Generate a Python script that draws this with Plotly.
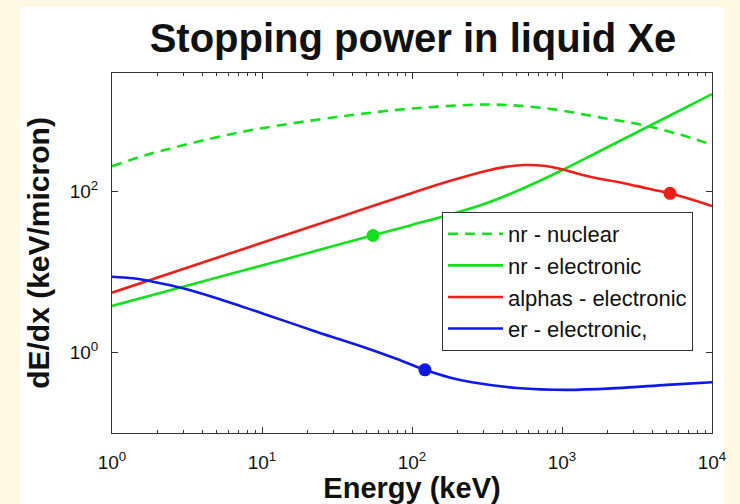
import plotly.graph_objects as go

# Energy grid (keV) and stopping powers (keV/micron) for each curve
nr_nuc_E = [1, 1.78, 3.16, 5.62, 10, 31.6, 100, 316, 562, 1000, 1778, 3162, 5623, 10000]
nr_nuc_S = [208, 295, 389, 501, 617, 851, 1084, 1216, 1161, 1023, 841, 700, 537, 385]

nr_el_E = [1, 3.16, 10, 31.6, 100, 178, 316, 562, 1000, 1778, 3162, 5623, 10000]
nr_el_S = [3.8, 6.8, 12.1, 21.7, 38.7, 51.8, 72.4, 112, 185, 319, 550, 948, 1637]

alpha_E = [1, 3.16, 10, 31.6, 100, 178, 316, 422, 562, 750, 1000, 1334, 1778, 2371, 3162, 5623, 10000]
alpha_S = [5.56, 11.35, 23.2, 47.3, 96.6, 136, 183, 204, 215, 211, 191, 164, 145, 132, 117.5, 92.3, 66.4]

er_E = [1, 1.38, 1.88, 2.97, 5.0, 10.8, 23, 50, 79.4, 122, 178, 251, 501, 1072, 2291, 5012, 10000]
er_S = [8.79, 8.4, 7.62, 6.31, 4.74, 2.94, 1.82, 1.135, 0.832, 0.61, 0.49, 0.427, 0.363, 0.344, 0.361, 0.397, 0.428]

# Highlighted points on three of the curves
nr_el_pt = (55, 28.6)
alpha_pt = (5250, 95.5)
er_pt = (122, 0.61)

x_tickvals = [1, 10, 100, 1000, 10000]
x_ticktext = ["10<sup>0</sup>", "10<sup>1</sup>", "10<sup>2</sup>", "10<sup>3</sup>", "10<sup>4</sup>"]
y_tickvals = [1, 100]
y_ticktext = ["10<sup>0</sup>", "10<sup>2</sup>"]

GREEN = "rgb(20,225,30)"
RED = "rgb(240,30,25)"
BLUE = "rgb(15,25,230)"
FONT = "Liberation Sans, Arial, sans-serif"

fig = go.Figure()
fig.add_trace(go.Scatter(x=nr_nuc_E, y=nr_nuc_S, mode="lines", name="nr - nuclear",
                         line=dict(color=GREEN, width=2.6, dash="10px,7px", shape="spline")))
fig.add_trace(go.Scatter(x=nr_el_E, y=nr_el_S, mode="lines", name="nr - electronic",
                         line=dict(color=GREEN, width=2.6, shape="spline")))
fig.add_trace(go.Scatter(x=alpha_E, y=alpha_S, mode="lines", name="alphas - electronic",
                         line=dict(color=RED, width=2.6, shape="spline")))
fig.add_trace(go.Scatter(x=er_E, y=er_S, mode="lines", name="er - electronic,",
                         line=dict(color=BLUE, width=2.6, shape="spline")))

for (px, py), col in [(nr_el_pt, GREEN), (alpha_pt, RED), (er_pt, BLUE)]:
    fig.add_trace(go.Scatter(x=[px], y=[py], mode="markers", showlegend=False,
                             marker=dict(color=col, size=13, line=dict(width=0))))

axis_common = dict(
    type="log", showgrid=False, zeroline=False, showline=True, linecolor="#333333",
    linewidth=1, mirror="ticks", ticks="inside", ticklen=6, tickcolor="#333333",
    automargin=False,
    tickfont=dict(family=FONT, size=19, color="#111111"),
)

fig.update_xaxes(
    **axis_common, range=[0, 4], tickvals=x_tickvals, ticktext=x_ticktext,
    ticklabelstandoff=12,
    minor=dict(ticks="inside", ticklen=3, tickcolor="#333333", dtick="D1", showgrid=False),
    title=dict(text="<b>Energy (keV)</b>", font=dict(family=FONT, size=29, color="#111111"), standoff=3),
)
fig.update_yaxes(
    **axis_common, range=[-1, 3.477], tickvals=y_tickvals, ticktext=y_ticktext,
    ticklabelstandoff=9,
    title=dict(text="<b>dE/dx (keV/micron)</b>", font=dict(family=FONT, size=30, color="#111111"), standoff=11),
)

# white panel behind the figure content
fig.add_shape(type="rect", xref="paper", yref="paper", x0=-0.1533, x1=1.02, y0=-0.2, y1=1.1833,
              fillcolor="white", line=dict(width=0), layer="below")

fig.update_layout(
    width=740, height=504,
    margin=dict(l=112, r=28, t=73, b=71),
    paper_bgcolor="rgb(255,249,228)",
    plot_bgcolor="white",
    title=dict(text="<b>Stopping power in liquid Xe</b>", x=413 / 740, xanchor="center",
               yref="container", y=(504 - 38) / 504, yanchor="middle",
               font=dict(family=FONT, size=40, color="#111111")),
    legend=dict(x=0.55, y=0.614, xanchor="left", yanchor="top", bgcolor="white",
                bordercolor="#333333", borderwidth=1, itemwidth=55,
                font=dict(family=FONT, size=22, color="#111111")),
    showlegend=True,
)

fig.write_html("out.html")
